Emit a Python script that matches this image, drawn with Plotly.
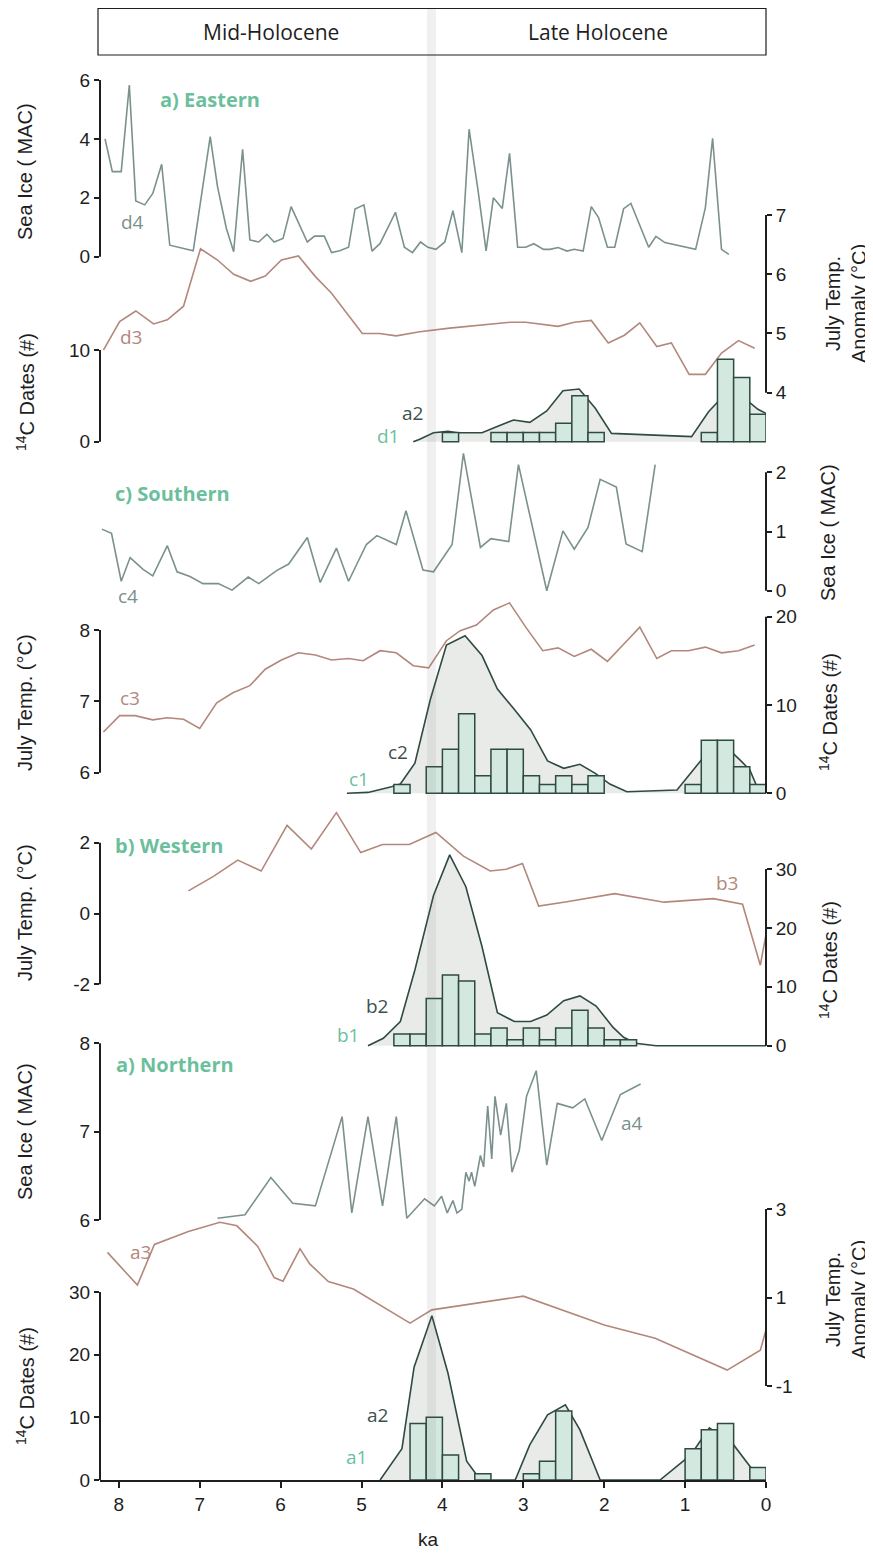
import plotly.graph_objects as go

# ---------------- DATA ----------------
# Eastern panel
d4_ka = [8.17, 8.08, 7.97, 7.87, 7.79, 7.68, 7.58, 7.47, 7.37, 7.08, 6.87, 6.78, 6.67, 6.58, 6.47, 6.38, 6.27, 6.17,
         6.08, 5.97, 5.87, 5.67, 5.58, 5.46, 5.37, 5.27, 5.16, 5.08, 4.97, 4.87, 4.77, 4.58, 4.47, 4.37, 4.27, 4.18,
         4.08, 3.97, 3.87, 3.76, 3.67, 3.56, 3.46, 3.37, 3.26, 3.17, 3.07, 2.97, 2.87, 2.75, 2.67, 2.57, 2.46, 2.37,
         2.26, 2.16, 2.07, 1.96, 1.87, 1.76, 1.67, 1.45, 1.36, 1.25, 0.87, 0.75, 0.66, 0.55, 0.46]
d4_mac = [4.0, 2.89, 2.89, 5.83, 1.89, 1.76, 2.15, 3.14, 0.39, 0.2, 4.08, 2.38, 0.96, 0.17, 3.65, 0.57, 0.5, 0.76,
          0.5, 0.62, 1.70, 0.5, 0.7, 0.7, 0.14, 0.2, 0.32, 1.62, 1.76, 0.19, 0.45, 1.51, 0.32, 0.14, 0.5, 0.32,
          0.25, 0.5, 1.56, 0.14, 4.33, 2.26, 0.2, 2.0, 1.64, 3.51, 0.32, 0.32, 0.44, 0.25, 0.25, 0.31, 0.19, 0.25,
          0.19, 1.70, 1.33, 0.32, 0.32, 1.63, 1.81, 0.32, 0.69, 0.48, 0.25, 1.66, 4.02, 0.25, 0.08]
d3_ka = [8.19, 7.99, 7.79, 7.57, 7.40, 7.20, 6.99, 6.78, 6.58, 6.37, 6.19, 5.99, 5.78, 5.57, 5.37, 4.99, 4.78, 4.57,
         4.28, 3.91, 3.16, 2.97, 2.57, 2.37, 2.16, 1.95, 1.75, 1.56, 1.35, 1.17, 0.95, 0.75, 0.55, 0.34, 0.14]
d3_temp = [4.72, 5.2, 5.38, 5.16, 5.23, 5.46, 6.43, 6.24, 6.0, 5.88, 5.97, 6.24, 6.31, 5.96, 5.68, 5.0, 5.0, 4.96,
           5.03, 5.09, 5.19, 5.19, 5.12, 5.19, 5.22, 4.84, 4.97, 5.18, 4.78, 4.84, 4.31, 4.31, 4.67, 4.88, 4.75]
d1_bin = [3.9, 3.3, 3.1, 2.9, 2.7, 2.5, 2.3, 2.1, 0.7, 0.5, 0.3, 0.1]
d1_n = [1, 1, 1, 1, 1, 2, 5, 1, 1, 9, 7, 3]
d2_ka = [4.36, 4.28, 4.11, 3.93, 3.82, 3.51, 3.33, 3.12, 2.92, 2.71, 2.51, 2.31, 2.11, 1.91, 0.92, 0.71, 0.6,
         0.45, 0.3, 0.21, 0.1, 0.0]
d2_n = [0, 0.26, 0.98, 1.13, 0.98, 0.98, 1.64, 2.37, 2.11, 3.35, 5.56, 5.75, 3.64, 0.91, 0.55, 3.27, 4.3,
        5.5, 5.0, 4.3, 3.53, 3.1]

# Southern panel
c4_ka = [8.21, 8.09, 7.97, 7.86, 7.70, 7.58, 7.40, 7.28, 7.12, 6.96, 6.77, 6.60, 6.40, 6.27, 6.05, 5.90, 5.67,
         5.51, 5.31, 5.16, 4.94, 4.81, 4.57, 4.45, 4.24, 4.11, 3.88, 3.74, 3.53, 3.40, 3.18, 3.06, 2.71, 2.51,
         2.37, 2.20, 2.05, 1.85, 1.73, 1.53, 1.37]
c4_mac = [1.04, 0.97, 0.16, 0.56, 0.36, 0.25, 0.76, 0.32, 0.24, 0.12, 0.12, 0.01, 0.23, 0.12, 0.34, 0.45, 0.9,
          0.14, 0.72, 0.16, 0.78, 0.93, 0.78, 1.35, 0.35, 0.32, 0.78, 2.32, 0.73, 0.88, 0.83, 2.13, 0.0, 1.01,
          0.7, 1.07, 1.88, 1.75, 0.79, 0.66, 2.13]
c3_ka = [8.19, 7.99, 7.80, 7.58, 7.40, 7.20, 7.00, 6.79, 6.59, 6.38, 6.19, 5.99, 5.78, 5.57, 5.37, 5.16, 4.98,
         4.77, 4.57, 4.36, 4.17, 3.95, 3.78, 3.58, 3.37, 3.17, 2.97, 2.76, 2.57, 2.37, 2.16, 1.96, 1.76, 1.56,
         1.35, 1.17, 0.96, 0.75, 0.55, 0.34, 0.14]
c3_temp = [6.57, 6.8, 6.8, 6.74, 6.77, 6.75, 6.62, 6.98, 7.12, 7.22, 7.45, 7.58, 7.68, 7.65, 7.58, 7.6, 7.57,
           7.71, 7.68, 7.5, 7.47, 7.85, 7.99, 8.07, 8.28, 8.38, 8.04, 7.71, 7.75, 7.63, 7.73, 7.56, 7.8, 8.04,
           7.6, 7.71, 7.71, 7.76, 7.68, 7.71, 7.79]
c1_bin = [4.5, 4.1, 3.9, 3.7, 3.5, 3.3, 3.1, 2.9, 2.7, 2.5, 2.3, 2.1, 0.9, 0.7, 0.5, 0.3, 0.1]
c1_n = [1, 3, 5, 9, 2, 5, 5, 2, 1, 2, 1, 2, 1, 6, 6, 3, 1]
c2_ka = [5.18, 4.92, 4.63, 4.52, 4.34, 4.15, 3.95, 3.72, 3.51, 3.32, 3.11, 2.91, 2.70, 2.50, 2.30, 2.11, 1.93,
         1.72, 1.10, 0.80, 0.60, 0.40, 0.30, 0.20, 0.12, 0.0]
c2_n = [0, 0.1, 0.75, 1.05, 3.4, 10.6, 16.8, 17.85, 15.6, 11.8, 9.5, 7.2, 3.66, 2.83, 3.28, 2.26, 1.05,
        0.18, 0.37, 3.77, 5.5, 4.45, 3.58, 2.64, 0.94, 0.1]

# Western panel
b3_ka = [7.14, 6.83, 6.53, 6.24, 5.92, 5.62, 5.31, 5.01, 4.74, 4.41, 4.08, 3.74, 3.41, 3.21, 3.01, 2.81, 2.46,
         1.87, 1.26, 0.65, 0.29, 0.07, 0.0]
b3_temp = [0.64, 1.05, 1.51, 1.2, 2.49, 1.82, 2.85, 1.72, 1.95, 1.95, 2.29, 1.62, 1.2, 1.25, 1.41, 0.21, 0.33,
           0.56, 0.32, 0.42, 0.26, -1.46, -0.59]
b1_bin = [4.5, 4.3, 4.1, 3.9, 3.7, 3.5, 3.3, 3.1, 2.9, 2.7, 2.5, 2.3, 2.1, 1.9, 1.7]
b1_n = [2, 2, 8, 12, 11, 2, 3, 1, 3, 1, 3, 6, 3, 1, 1]
b2_ka = [4.92, 4.73, 4.52, 4.34, 4.11, 3.91, 3.71, 3.51, 3.32, 3.11, 2.91, 2.71, 2.50, 2.30, 2.10, 1.89, 1.76,
         1.61, 1.36, 0.0]
b2_n = [0, 1.25, 4.1, 12.85, 25.5, 32.4, 27, 16.8, 5.6, 4.1, 4.1, 5.2, 7.65, 8.45, 6.74, 3.1, 1.42,
        0.4, 0, 0]

# Northern panel
a4_ka = [6.78, 6.44, 6.12, 5.85, 5.57, 5.24, 5.12, 4.92, 4.74, 4.57, 4.44, 4.22, 4.10, 4.01, 3.94, 3.87, 3.82,
         3.76, 3.71, 3.67, 3.64, 3.60, 3.53, 3.49, 3.44, 3.39, 3.35, 3.28, 3.21, 3.14, 3.05, 2.96, 2.84, 2.71,
         2.58, 2.39, 2.24, 2.03, 1.80, 1.55]
a4_mac = [6.02, 6.06, 6.48, 6.19, 6.16, 7.17, 6.08, 7.17, 6.16, 7.17, 6.02, 6.24, 6.16, 6.27, 6.08, 6.22, 6.08,
          6.12, 6.54, 6.44, 6.54, 6.38, 6.73, 6.6, 7.29, 6.69, 7.4, 6.96, 7.32, 6.54, 6.79, 7.4, 7.69, 6.62,
          7.32, 7.27, 7.37, 6.9, 7.42, 7.54]
a3_ka = [8.14, 7.77, 7.56, 7.14, 6.75, 6.54, 6.28, 6.08, 5.97, 5.76, 5.64, 5.41, 5.10, 4.40, 4.13, 3.00, 2.00,
         1.37, 0.48, 0.07, 0.0]
a3_temp = [2.02, 1.28, 2.2, 2.49, 2.7, 2.62, 2.15, 1.45, 1.37, 2.1, 1.76, 1.36, 1.19, 0.42, 0.72, 1.03, 0.38,
           0.08, -0.64, -0.19, 0.27]
a1_bin = [4.3, 4.1, 3.9, 3.5, 2.9, 2.7, 2.5, 0.9, 0.7, 0.5, 0.1]
a1_n = [9, 10, 4, 1, 1, 3, 11, 5, 8, 9, 2]
a2_ka = [4.77, 4.50, 4.35, 4.13, 3.93, 3.70, 3.53, 3.10, 2.92, 2.70, 2.48, 2.30, 2.05, 1.31, 0.93, 0.70, 0.40, 0.07]
a2_n = [0, 5, 18, 26.2, 17, 3, 0, 0, 5.6, 10.4, 12, 8, 0, 0, 4, 8.3, 5.6, 0]

x_ticks = [8, 7, 6, 5, 4, 3, 2, 1, 0]
event_band = [4.19, 4.08]
periods = ["Mid-Holocene", "Late Holocene"]

# ---------------- STYLE / LAYOUT ----------------
# the page adds an 8 px body margin, so the figure is 8 px smaller and every
# reference page-pixel position is shifted by OFF
OFF = 8
W, H = 873 - OFF, 1559 - OFF
PLOT_L, PLOT_R, PLOT_T, PLOT_B = 100, 766, 8, 1480   # plot area in page pixels
ML, MR = PLOT_L - OFF, W - (PLOT_R - OFF)
MT, MB = PLOT_T - OFF, H - (PLOT_B - OFF)
PW, PH = PLOT_R - PLOT_L, PLOT_B - PLOT_T

ICE = "#7b918d"
TEMP = "#b3877c"
DARK = "#2e4a42"
LAB2 = "#3d524c"
MINT = "#6cbf9c"
BARF = "#d3e8df"
KDEF = "#e9ebe9"
AX = "#1e1e1e"
TICKFONT = dict(family="Liberation Sans, Arial", size=19, color=AX)
LABFONT = "Open Sans, Lato, sans-serif"


def px(x):
    return (x - PLOT_L) / PW


def py(y):
    return (PLOT_B - y) / PH


def rng(v1, p1, v2, p2):
    s = (v2 - v1) / (p1 - p2)
    return [v1 - (PLOT_B - p1) * s, v1 + (p1 - PLOT_T) * s]


# axis definitions: name, side, (value,page_px),(value,page_px), tickvals
axes = {
    "y":   ("left",  (0, 1480), (30, 1292), [0, 10, 20, 30]),
    "y2":  ("right", (3, 1209), (-1, 1386), [-1, 1, 3]),
    "y3":  ("left",  (8, 1043.3), (6, 1220), [6, 7, 8]),
    "y4":  ("right", (30, 869), (0, 1045.7), [0, 10, 20, 30]),
    "y5":  ("left",  (2, 842.7), (-2, 984.3), [-2, 0, 2]),
    "y6":  ("right", (20, 616.7), (0, 793.3), [0, 10, 20]),
    "y7":  ("left",  (8, 630), (6, 772.7), [6, 7, 8]),
    "y8":  ("right", (2, 472.3), (0, 590.7), [0, 1, 2]),
    "y9":  ("left",  (10, 350), (0, 441.7), [0, 10]),
    "y10": ("right", (7, 215), (4, 392.7), [4, 5, 6, 7]),
    "y11": ("left",  (6, 80), (0, 256.7), [0, 2, 4, 6]),
}
# hidden twins for the histogram bars so they sit on top of the KDE fills
bar_twins = {"y12": "y", "y13": "y4", "y14": "y6", "y15": "y9"}

fig = go.Figure()

shapes = [dict(type="rect", xref="x", yref="paper", x0=event_band[0], x1=event_band[1],
               y0=0, y1=1, fillcolor="rgba(110,110,110,0.10)", line=dict(width=0), layer="above")]
shapes.append(dict(type="rect", xref="paper", yref="paper", x0=px(98), x1=px(766), y0=py(55), y1=py(8.5),
                   line=dict(color=AX, width=1.2), fillcolor="rgba(0,0,0,0)", layer="above"))

layout_axes = {}
for name, (side, a, b, tv) in axes.items():
    key = "yaxis" if name == "y" else "yaxis" + name[1:]
    d = dict(range=rng(a[0], a[1], b[0], b[1]), domain=[0, 1], anchor="x", side=side,
             showgrid=False, zeroline=False, showline=False, ticks="outside", ticklen=5,
             tickwidth=1.6, tickcolor=AX, tickmode="array", tickvals=tv,
             ticktext=[str(v) for v in tv], tickfont=TICKFONT, fixedrange=True)
    if name != "y":
        d["overlaying"] = "y"
    layout_axes[key] = d
    shapes.append(dict(type="line", xref="paper", yref=name, x0=0 if side == "left" else 1,
                       x1=0 if side == "left" else 1, y0=min(tv), y1=max(tv),
                       line=dict(color=AX, width=2)))
for name, src in bar_twins.items():
    side, a, b, tv = axes[src]
    layout_axes["yaxis" + name[1:]] = dict(range=rng(a[0], a[1], b[0], b[1]), domain=[0, 1], anchor="x",
                                           overlaying="y", visible=False, fixedrange=True)


def line(x, y, ax, color, width=1.6):
    fig.add_trace(go.Scatter(x=x, y=y, yaxis=ax, mode="lines", line=dict(color=color, width=width),
                             hoverinfo="skip"))


def kde(x, y, ax):
    fig.add_trace(go.Scatter(x=x, y=y, yaxis=ax, mode="lines", fill="tozeroy", fillcolor=KDEF,
                             line=dict(color=DARK, width=1.6), hoverinfo="skip"))


def bars(x, y, ax):
    fig.add_trace(go.Bar(x=x, y=y, yaxis=ax, width=0.2,
                         marker=dict(color=BARF, line=dict(color=DARK, width=1.5)), hoverinfo="skip"))


# Northern
kde(a2_ka, a2_n, "y")
line(a3_ka, a3_temp, "y2", TEMP)
line(a4_ka, a4_mac, "y3", ICE)
# Western
kde(b2_ka, b2_n, "y4")
line(b3_ka, b3_temp, "y5", TEMP)
# Southern
kde(c2_ka, c2_n, "y6")
line(c3_ka, c3_temp, "y7", TEMP)
line(c4_ka, c4_mac, "y8", ICE)
# Eastern
kde(d2_ka, d2_n, "y9")
line(d3_ka, d3_temp, "y10", TEMP)
line(d4_ka, d4_mac, "y11", ICE)
# histograms on top
bars(a1_bin, a1_n, "y12")
bars(b1_bin, b1_n, "y13")
bars(c1_bin, c1_n, "y14")
bars(d1_bin, d1_n, "y15")

ann = []


def text(t, x, y, color, size=19, bold=False, angle=0, family=LABFONT):
    if bold:
        t = "<b>" + t + "</b>"
    ann.append(dict(text=t, x=px(x), y=py(y), xref="paper", yref="paper", showarrow=False,
                    xanchor="center", yanchor="middle", textangle=angle,
                    font=dict(family=family, size=size, color=color)))


# header
text(periods[0], 271, 32, AX, size=21)
text(periods[1], 598, 32, AX, size=21)
# panel titles
text("a) Eastern", 210, 99, MINT, size=20, bold=True)
text("c) Southern", 172, 493, MINT, size=20, bold=True)
text("b) Western", 169, 845, MINT, size=20, bold=True)
text("a) Northern", 175, 1064, MINT, size=20, bold=True)
# series labels
for t, x, y, c in [("d4", 132, 222, ICE), ("d3", 131, 337, TEMP), ("a2", 412, 413, LAB2), ("d1", 388, 436, MINT),
                   ("c4", 128, 596, ICE), ("c3", 130, 698, TEMP), ("c2", 398, 752, LAB2), ("c1", 359, 779, MINT),
                   ("b3", 727, 883, TEMP), ("b2", 377, 1006, LAB2), ("b1", 348, 1035, MINT),
                   ("a4", 632, 1123, ICE), ("a3", 140, 1252, TEMP), ("a2", 377, 1415, LAB2), ("a1", 356, 1457, MINT)]:
    text(t, x, y, c, size=19)

# axis titles
AF = "Liberation Sans, Arial"
text("Sea Ice ( MAC)", 25, 172, AX, size=20, angle=-90, family=AF)
text("<sup>14</sup>C Dates (#)", 25, 392, AX, size=20, angle=-90, family=AF)
text("July Temp.<br>Anomaly (°C)", 846, 304, AX, size=20, angle=-90, family=AF)
text("Sea Ice ( MAC)", 828, 533, AX, size=20, angle=-90, family=AF)
text("July Temp. (°C)", 25, 703, AX, size=20, angle=-90, family=AF)
text("<sup>14</sup>C Dates (#)", 828, 712, AX, size=20, angle=-90, family=AF)
text("July Temp. (°C)", 25, 913, AX, size=20, angle=-90, family=AF)
text("<sup>14</sup>C Dates (#)", 828, 960, AX, size=20, angle=-90, family=AF)
text("Sea Ice ( MAC)", 25, 1132, AX, size=20, angle=-90, family=AF)
text("July Temp.<br>Anomaly (°C)", 846, 1300, AX, size=20, angle=-90, family=AF)
text("<sup>14</sup>C Dates (#)", 25, 1386, AX, size=20, angle=-90, family=AF)
text("ka", 428, 1540, AX, size=19, family=AF)

fig.update_layout(
    width=W, height=H, margin=dict(l=ML, r=MR, t=MT, b=MB, pad=0, autoexpand=False),
    paper_bgcolor="white", plot_bgcolor="white", showlegend=False, barmode="overlay",
    xaxis=dict(range=[(PLOT_R - PLOT_L) / 80.9, 0], domain=[0, 1], anchor="y", showgrid=False, zeroline=False,
               showline=True, linecolor=AX, linewidth=2, ticks="outside", ticklen=6, tickwidth=1.6,
               tickcolor=AX, tickmode="array", tickvals=x_ticks, ticktext=[str(v) for v in x_ticks],
               tickfont=TICKFONT, fixedrange=True),
    shapes=shapes, annotations=ann,
    **layout_axes,
)

fig.write_html("out.html")
